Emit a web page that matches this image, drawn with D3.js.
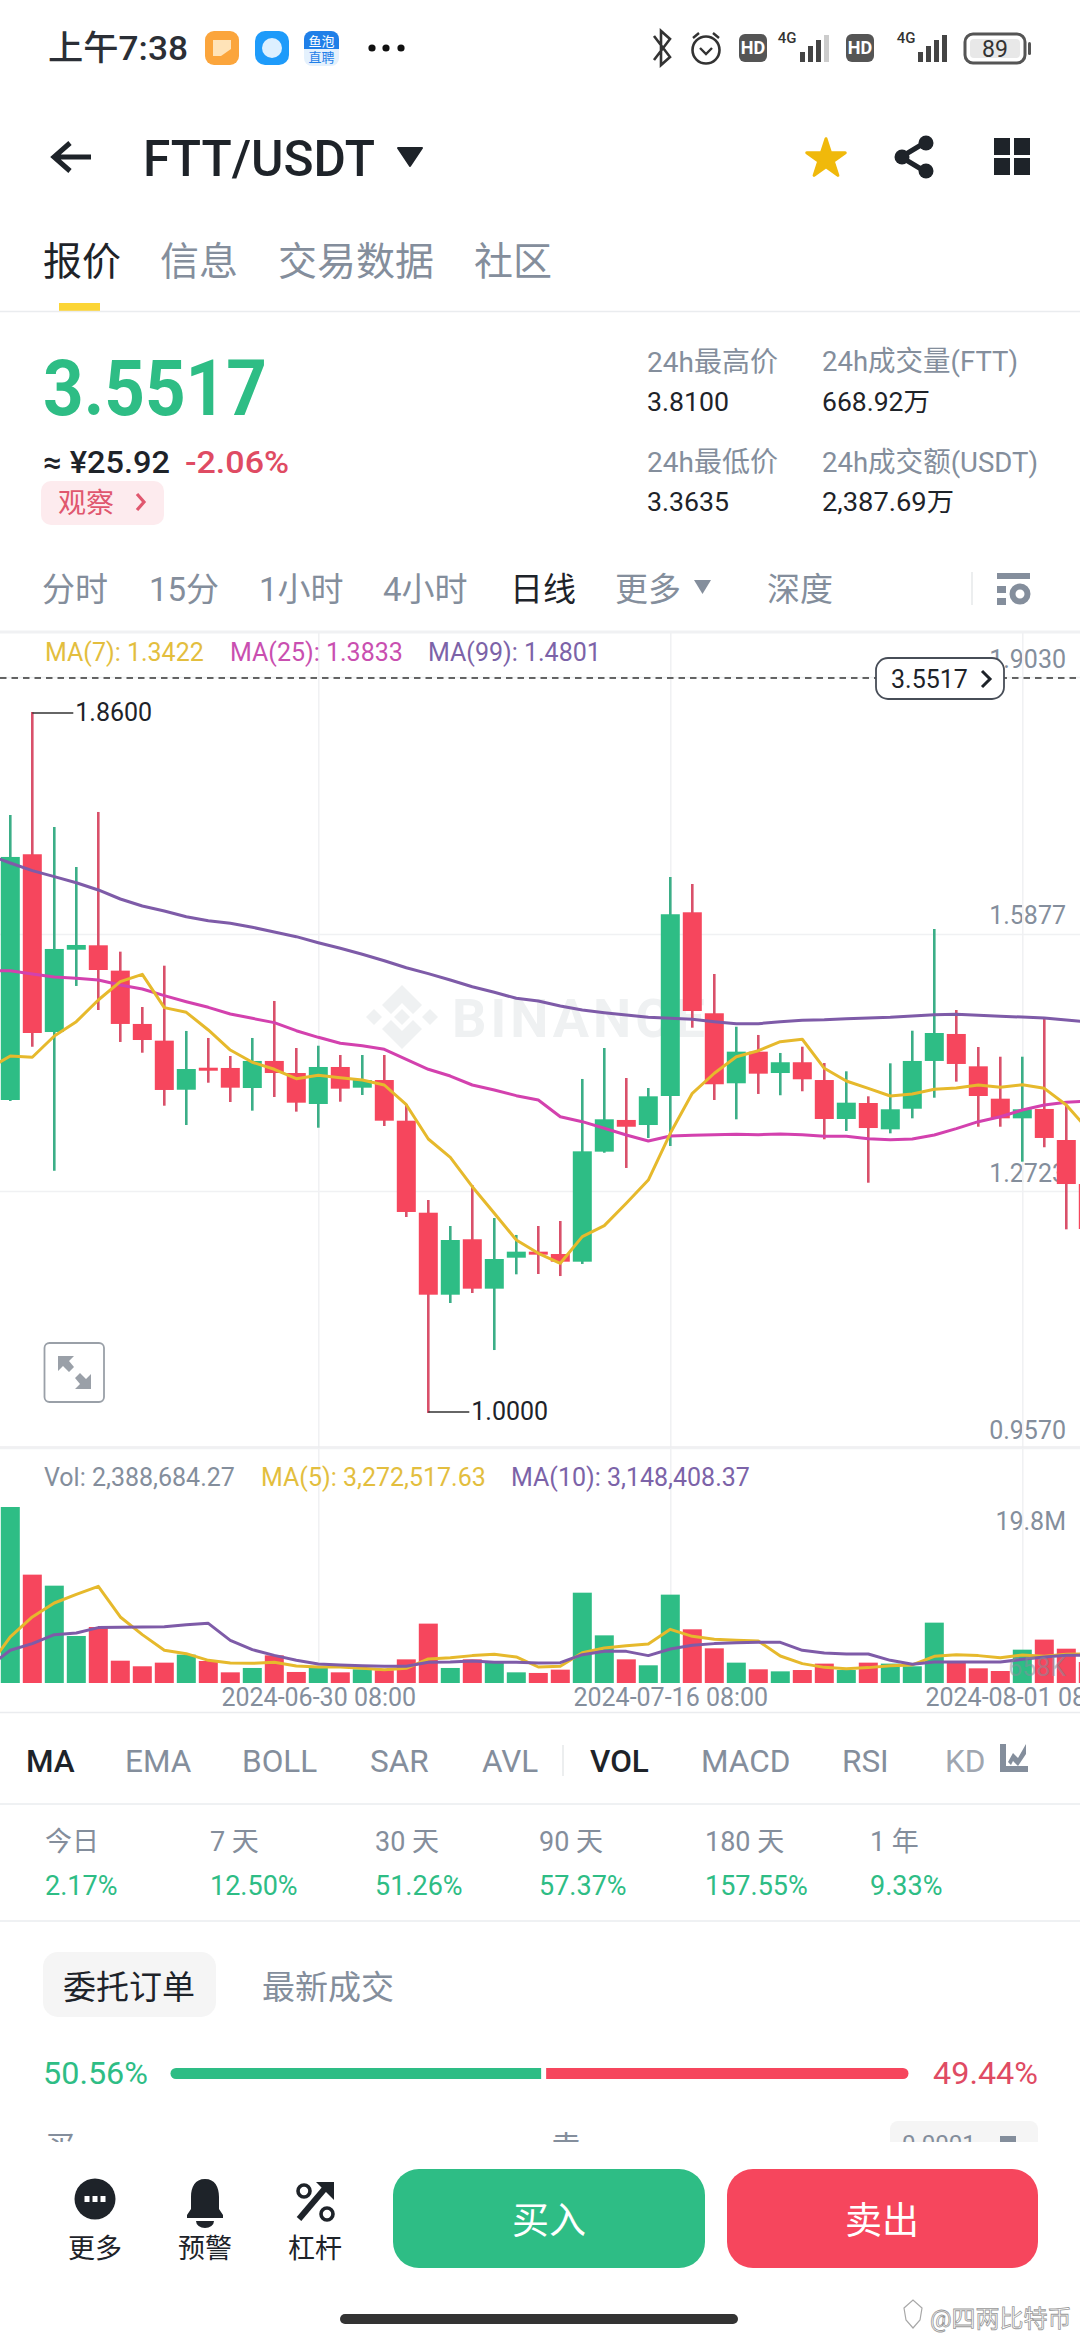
<!DOCTYPE html>
<html><head><meta charset="utf-8">
<script src="https://cdn.jsdelivr.net/npm/d3@7/dist/d3.min.js"></script>
<style>html,body{margin:0;padding:0;background:#fff;width:1080px;height:2340px;overflow:hidden}svg{display:block}</style>
</head><body><svg id="c" width="1080" height="2340" viewBox="0 0 1080 2340"></svg>
<script>
// ---------- DATA ----------
const opens=[1.3840,1.6855,1.4674,1.5684,1.5738,1.5427,1.4773,1.4568,1.3966,1.4236,1.4233,1.3987,1.4319,1.4171,1.3791,1.4245,1.3991,1.4085,1.3586,1.2457,1.1451,1.2131,1.1525,1.1905,1.1979,1.1950,1.1856,1.3206,1.3595,1.3533,1.3889,1.6143,1.4904,1.4045,1.4433,1.4171,1.4303,1.4085,1.3607,1.3803,1.3480,1.3733,1.4319,1.4650,1.4253,1.3856,1.3615,1.3730,1.3349,1.2809];
const closes=[1.6822,1.4662,1.5693,1.5742,1.5435,1.4773,1.4576,1.3963,1.4220,1.4208,1.3991,1.4319,1.4171,1.3807,1.4245,1.3979,1.4085,1.3586,1.2466,1.1451,1.2122,1.1525,1.1889,1.1979,1.1950,1.1856,1.3210,1.3603,1.3512,1.3885,1.6119,1.4932,1.4033,1.4433,1.4163,1.4303,1.4094,1.3607,1.3807,1.3496,1.3726,1.4319,1.4662,1.4282,1.3889,1.3615,1.3726,1.3374,1.2809,1.2257];
const highs=[1.7337,1.8600,1.7190,1.6699,1.7374,1.5660,1.4981,1.5488,1.4687,1.4601,1.4380,1.4601,1.5055,1.4478,1.4506,1.4392,1.4392,1.4392,1.3791,1.2613,1.2294,1.2797,1.2392,1.2184,1.2294,1.2355,1.4098,1.4478,1.4110,1.3987,1.6576,1.6490,1.5386,1.4739,1.4638,1.4417,1.4494,1.4294,1.4192,1.3885,1.4290,1.4690,1.5938,1.4944,1.4490,1.4371,1.4371,1.4842,1.3779,1.2809];
const lows=[1.3828,1.4494,1.2973,1.5239,1.4944,1.4552,1.4420,1.3770,1.3533,1.4052,1.3815,1.3709,1.3877,1.3697,1.3500,1.3819,1.3901,1.3521,1.2404,1.0000,1.1349,1.1472,1.0772,1.1701,1.1705,1.1680,1.1828,1.3193,1.3006,1.3374,1.3276,1.4727,1.3840,1.3603,1.3914,1.3898,1.3947,1.3358,1.3460,1.2825,1.3431,1.3615,1.3868,1.4065,1.3512,1.3512,1.3083,1.3260,1.2253,1.2257];
// moving averages: first entry belongs to the day just left of the visible window
const ma7=[1.4220,1.4380,1.4364,1.4625,1.4801,1.5067,1.5292,1.5382,1.4973,1.4916,1.4699,1.4453,1.4303,1.4217,1.4101,1.4143,1.4114,1.4085,1.4024,1.3782,1.3361,1.3137,1.2776,1.2450,1.2122,1.1959,1.1836,1.2163,1.2298,1.2573,1.2858,1.3431,1.3922,1.4168,1.4371,1.4445,1.4555,1.4585,1.4229,1.4073,1.3983,1.3889,1.3914,1.3971,1.3987,1.4024,1.3996,1.4028,1.3983,1.3779,1.3472];
const ma25=[1.5423,1.5427,1.5386,1.5349,1.5333,1.5312,1.5251,1.5202,1.5120,1.5046,1.4977,1.4895,1.4842,1.4789,1.4690,1.4609,1.4536,1.4506,1.4462,1.4339,1.4217,1.4134,1.4024,1.3963,1.3893,1.3840,1.3635,1.3574,1.3493,1.3411,1.3337,1.3398,1.3407,1.3414,1.3419,1.3414,1.3423,1.3414,1.3395,1.3395,1.3365,1.3353,1.3361,1.3411,1.3488,1.3574,1.3635,1.3717,1.3779,1.3812,1.3828];
const ma99=[1.6846,1.6748,1.6654,1.6580,1.6506,1.6417,1.6306,1.6220,1.6159,1.6089,1.6040,1.6008,1.5959,1.5901,1.5844,1.5770,1.5701,1.5628,1.5549,1.5463,1.5390,1.5312,1.5230,1.5161,1.5088,1.5054,1.4993,1.4944,1.4911,1.4883,1.4855,1.4842,1.4830,1.4801,1.4776,1.4776,1.4801,1.4818,1.4825,1.4838,1.4846,1.4855,1.4871,1.4887,1.4892,1.4879,1.4867,1.4858,1.4846,1.4822,1.4797];
const volumes=[19.8,12.19,10.95,5.29,6.30,2.51,1.88,2.29,3.19,2.48,1.20,1.69,3.11,1.24,1.80,1.20,1.54,1.43,2.66,6.68,1.69,2.66,2.36,1.20,1.13,1.50,10.16,5.36,2.66,1.99,9.94,6.04,3.90,2.29,1.54,1.31,1.46,2.18,1.46,2.29,2.18,1.88,6.79,2.29,1.65,1.35,3.75,4.88,3.86,2.36];
const volMa5=[1.80,5.18,7.43,9.00,9.98,10.88,7.43,5.44,3.68,3.30,2.55,2.25,2.21,2.33,1.91,1.80,1.80,1.65,1.50,1.65,2.70,2.85,3.08,3.23,2.93,1.80,1.88,3.41,3.94,4.20,4.39,6.04,5.25,4.91,4.80,4.73,3.04,2.18,1.76,1.61,1.73,1.95,2.03,3.00,3.19,3.08,2.85,3.15,3.00,3.23,3.26];
const volMa10=[1.80,3.68,4.43,5.44,5.63,6.23,6.26,6.30,6.34,6.56,6.71,4.80,3.75,3.11,2.55,2.14,2.03,1.95,1.88,1.88,2.33,2.36,2.48,2.33,2.33,2.25,2.29,3.19,3.56,3.56,3.08,3.83,4.24,4.43,4.54,4.58,4.58,3.68,3.38,3.26,3.26,2.55,2.10,2.36,2.36,2.36,2.36,2.66,2.93,3.11,3.15];
const priceTicks=[1.9030,1.5877,1.2723,0.9570];
const priceTickLabels=["1.9030","1.5877","1.2723","0.9570"];
const dateTickIdx=[14,30,46];
const dateTickLabels=["2024-06-30 08:00","2024-07-16 08:00","2024-08-01 08:00"];
const lastPrice=1.903;
const lastPriceLabel="3.5517";
const maxHighLabel="1.8600";
const minLowLabel="1.0000";
const indicatorNames=["MA","EMA","BOLL","SAR","AVL","VOL","MACD","RSI","KD"];
const periodNames=["分时","15分","1小时","4小时","日线","更多","深度"];
const statLabels=["今日","7 天","30 天","90 天","180 天","1 年"];
const statValues=["2.17%","12.50%","51.26%","57.37%","157.55%","9.33%"];
const buyShare=50.56, sellShare=49.44;

// ---------- STYLE ----------
const GREEN="#2EBD85",RED="#F6465D",DARK="#1E2329",GREY="#848E9C",GRID="#F0F1F3";
const WICKG="#3BAE87",WICKR="#D9506A";
const CY="#E6B92C",CP="#D341AE",CV="#7E5BA8";
const FONT='Roboto,"Noto Sans CJK SC",sans-serif';
const svg=d3.select("#c").style("font-family",FONT);
function t(x,y,s,size,fill,o={}){
  const n=svg.append("text").attr("x",x).attr("y",y).attr("dy","0.36em").attr("font-size",size).attr("fill",fill)
    .attr("text-anchor",o.a||"start").attr("font-weight",o.w||400).attr("opacity",o.op==null?1:o.op)
    .attr("letter-spacing",o.ls||null).text(s);
  if(o.len)n.attr("textLength",o.len).attr("lengthAdjust","spacingAndGlyphs");
  return n;
}
function hline(y,c,x0=0,x1=1080,w=1.5){svg.append("line").attr("x1",x0).attr("x2",x1).attr("y1",y).attr("y2",y).attr("stroke",c).attr("stroke-width",w);}
function p(d,fill,o={}){return svg.append("path").attr("d",d).attr("fill",fill).attr("stroke",o.s||"none").attr("stroke-width",o.w||0).attr("stroke-linecap",o.c||"butt").attr("stroke-linejoin",o.j||"miter");}
function r(x,y,w,h,rx,fill,o={}){return svg.append("rect").attr("x",x).attr("y",y).attr("width",w).attr("height",h).attr("rx",rx).attr("fill",fill).attr("stroke",o.s||"none").attr("stroke-width",o.w||0);}

// ---------- STATUS BAR ----------
t(48,48,"上午7:38",34,"#2b2f36",{w:500,len:140});
r(205,31,34,34,9,"#FBA53C");p("M213,40h18v9l-10,7h-8z","#FFE3B8");
r(255,31,34,34,10,"#1E9BFA");p("M262,48a10,10 0 0 1 20,0a10,10 0 0 1 -20,0z","#DDF0FF");
r(304,31,35,35,8,"#E4F1FD");
svg.append("path").attr("d","M304,39a8,8 0 0 1 8,-8h19a8,8 0 0 1 8,8v10h-35z").attr("fill","#1F7FE8");
t(321.5,41,"鱼泡",13,"#fff",{a:"middle"});t(321.5,57,"直聘",13,"#1F7FE8",{a:"middle"});
[372,386,401].forEach(x=>svg.append("circle").attr("cx",x).attr("cy",48).attr("r",3.6).attr("fill","#111"));
p("M654,36L670,57L661,65V31L670,39L654,60","none",{s:"#333",w:2.6});
svg.append("circle").attr("cx",706).attr("cy",50).attr("r",13.5).attr("fill","none").attr("stroke","#333").attr("stroke-width",2.6);
p("M700,48l6,6l6,-6M693,38l6,-5M719,38l-6,-5","none",{s:"#333",w:2.4});
[739,846].forEach(x=>{r(x,34,28,28,6,"#555");t(x+14,48,"HD",18,"#fff",{a:"middle",w:700});});
[[787,790],[906,908]].forEach(([tx,bx])=>{
  t(tx,38,"4G",15,"#333",{a:"middle",w:500});
  [10,16,22,27].forEach((h,i)=>r(bx+10+i*8,62-h,5,h,0,bx<800&&i==3?"#ccc":"#444"));
});
r(965,34,60,29,8,"none",{s:"#555",w:3});r(970,39,50,19,4,"#e8e8e8");
t(995,48.5,"89",23,"#333",{a:"middle"});r(1028,42,3,13,1.5,"#555");

// ---------- NAV ----------
p("M91,157H56M70,143L54,157L70,171","none",{s:DARK,w:5});
t(143,158,"FTT/USDT",50,DARK,{w:500,len:232});
p("M398,148H422L410,166Z",DARK,{s:DARK,w:2,j:"round"});
svg.append("path").attr("d",d3.symbol(d3.symbolStar,460)).attr("transform","translate(826,159)").attr("fill","#F0B90B").attr("stroke","#F0B90B").attr("stroke-width",3).attr("stroke-linejoin","round");
p("M926,142L901,157L926,172","none",{s:DARK,w:5});
[[926,143],[902,157],[926,171]].forEach(([x,y])=>svg.append("circle").attr("cx",x).attr("cy",y).attr("r",7.5).attr("fill",DARK));
[[994,138],[1014,138],[994,158],[1014,158]].forEach(([x,y])=>r(x,y,16,17,0,DARK));

// ---------- TABS ----------
t(43,261,"报价",39,DARK);t(160,261,"信息",39,GREY);t(278,261,"交易数据",39,GREY);t(474,261,"社区",39,GREY);
r(59,303,41,8,0,"#FCD535");hline(311.5,"#EAECEF");

// ---------- HEADLINE ----------
t(43,387,"3.5517",78,GREEN,{w:700,len:224});
t(43,462,"≈ ¥25.92",31,DARK,{w:500,len:127});t(185,462,"-2.06%",31,"#DF4B63",{w:500,len:104});
r(41,481,123,44,10,"#FDEBEE");t(58,503,"观察",28,"#E0576E");
p("M137,494l7,8l-7,8","none",{s:"#E0576E",w:3.2});
t(647,362,"24h最高价",28,GREY);t(647,402,"3.8100",26,DARK,{len:82});
t(822,361,"24h成交量(FTT)",28,GREY,{len:196});t(822,402,"668.92万",26,DARK,{len:108});
t(647,462,"24h最低价",28,GREY);t(647,502,"3.3635",26,DARK,{len:82});
t(822,462,"24h成交额(USDT)",28,GREY,{len:216});t(822,502,"2,387.69万",26,DARK,{len:132});

// ---------- PERIODS ----------
[42,149,259,383,510,615,767].forEach((x,i)=>t(x,589,periodNames[i],33,i==4?DARK:GREY));
p("M694,580H711L702.5,594Z",GREY);
svg.append("line").attr("x1",972).attr("x2",972).attr("y1",572).attr("y2",605).attr("stroke","#E6E8EA").attr("stroke-width",1.5);
r(997,573,33,6,0,GREY);r(997,586,9,7,0,GREY);r(997,598,9,7,0,GREY);
svg.append("circle").attr("cx",1020).attr("cy",594).attr("r",7.5).attr("fill","none").attr("stroke",GREY).attr("stroke-width",6);
hline(632,GRID,0,1080,3);

// ---------- SCALES ----------
const x=d3.scaleLinear().domain([0,1]).range([10.3,32.3]);
const y=d3.scaleLinear().domain([0.957,1.903]).range([1448,677]);
const v=d3.scaleLinear().domain([0,19.8]).range([1683,1507]);
const BODY=19,WICK=2.6;

// ---------- WATERMARK ----------
const wm="#EFF1F2";
const diamond=(cx,cy,s)=>`M${cx},${cy-s}L${cx+s},${cy}L${cx},${cy+s}L${cx-s},${cy}Z`;
p(diamond(402,1017,8),wm);p(diamond(374,1017,8),wm);p(diamond(430,1017,8),wm);
p("M402,985L422,1005L413,1014L402,1003L391,1014L382,1005Z",wm);
p("M402,1049L422,1029L413,1020L402,1031L391,1020L382,1029Z",wm);
t(452,1018,"BINANCE",54,wm,{w:700,ls:"4px"});

// ---------- AXES ----------
const gy=svg.append("g").call(d3.axisRight(y).tickValues(priceTicks).tickSize(1080).tickFormat((d,i)=>priceTickLabels[i]));
gy.select(".domain").remove();
gy.selectAll(".tick line").attr("stroke",GRID).attr("stroke-width",1.5);
gy.selectAll(".tick text").attr("x",1066).attr("dy","-0.36em").attr("y",-1).attr("text-anchor","end").attr("fill",GREY).attr("font-size",25).attr("font-family",FONT);
const gx=svg.append("g").attr("transform","translate(0,1683)").call(d3.axisBottom(x).tickValues(dateTickIdx).tickSize(-1051).tickFormat((d,i)=>dateTickLabels[i]));
gx.select(".domain").remove();
gx.selectAll(".tick line").attr("stroke",GRID).attr("stroke-width",1.5);
gx.selectAll(".tick text").attr("y",14).attr("dy","0.36em").attr("fill",GREY).attr("font-size",25).attr("font-family",FONT);
hline(1447,"#ECEDEF");hline(1712.5,"#EAECEF");

// ---------- CANDLES ----------
const candles=opens.map((o,i)=>({i,o,c:closes[i],h:highs[i],l:lows[i],up:closes[i]>=o}));
const gc=svg.append("g");
gc.selectAll("line").data(candles).join("line").attr("x1",d=>x(d.i)).attr("x2",d=>x(d.i)).attr("y1",d=>y(d.h)).attr("y2",d=>y(d.l)).attr("stroke",d=>d.up?WICKG:WICKR).attr("stroke-width",WICK);
gc.selectAll("rect").data(candles).join("rect").attr("x",d=>x(d.i)-BODY/2).attr("width",BODY).attr("y",d=>y(Math.max(d.o,d.c))).attr("height",d=>Math.max(3,Math.abs(y(d.o)-y(d.c)))).attr("fill",d=>d.up?GREEN:RED);

// ---------- MA LINES ----------
const maLine=(sc)=>d3.line().x((d,i)=>x(i-1)).y(d=>sc(d));
[[ma99,CV],[ma25,CP],[ma7,CY]].forEach(([a,c])=>svg.append("path").attr("d",maLine(y)(a)).attr("fill","none").attr("stroke",c).attr("stroke-width",3).attr("stroke-linejoin","round"));

// ---------- VOLUME ----------
svg.append("g").selectAll("rect").data(volumes).join("rect").attr("x",(d,i)=>x(i)-BODY/2).attr("width",BODY).attr("y",d=>v(d)).attr("height",d=>v(0)-v(d)).attr("fill",(d,i)=>closes[i]>=opens[i]?GREEN:RED);
[[volMa5,CY],[volMa10,CV]].forEach(([a,c])=>svg.append("path").attr("d",maLine(v)(a)).attr("fill","none").attr("stroke",c).attr("stroke-width",3).attr("stroke-linejoin","round"));
t(1066,1521,"19.8M",25,GREY,{a:"end"});t(1066,1667,"658K",25,GREY,{a:"end",op:.55});

// ---------- LEGENDS ----------
t(45,652,"MA(7): 1.3422",25,"#E3BE3E");t(230,652,"MA(25): 1.3833",25,"#C94FB0");t(428,652,"MA(99): 1.4801",25,"#7C63A8");
t(44,1477,"Vol: 2,388,684.27",25,GREY);t(261,1477,"MA(5): 3,272,517.63",25,"#E3BE3E");t(511,1477,"MA(10): 3,148,408.37",25,"#7C63A8");

// ---------- LAST PRICE ----------
svg.append("line").attr("x1",0).attr("x2",1080).attr("y1",y(lastPrice)+1).attr("y2",y(lastPrice)+1).attr("stroke","#333").attr("stroke-width",1.6).attr("stroke-dasharray","6.5 5");
r(876,658,128,41,12,"#fff",{s:"#474D57",w:1.8});
t(891,679,lastPriceLabel,25,DARK);p("M982,671l8,8l-8,8","none",{s:DARK,w:3});

// ---------- HI / LO ANNOTATIONS ----------
const hiI=highs.indexOf(d3.max(highs)),loI=lows.indexOf(d3.min(lows));
svg.append("line").attr("x1",x(hiI)).attr("x2",x(hiI)+41).attr("y1",y(highs[hiI])+1).attr("y2",y(highs[hiI])+1).attr("stroke","#333").attr("stroke-width",1.6);
t(x(hiI)+43,712,maxHighLabel,25,DARK);
svg.append("line").attr("x1",x(loI)).attr("x2",x(loI)+41).attr("y1",y(lows[loI])-1).attr("y2",y(lows[loI])-1).attr("stroke","#333").attr("stroke-width",1.6);
t(x(loI)+43,1411,minLowLabel,25,DARK);

// expand button
r(44.5,1343,59.5,59,5,"#fff",{s:"#9AA0A8",w:1.8});
p("M58,1356h16l-5,5l5,6l-5,5l-6,-6l-5,5z M91,1389h-16l5,-5l-5,-6l5,-5l6,6l5,-5z","#9AA0A8");

// ---------- INDICATORS ----------
[26,125,242,370,482,590,701,842,945].forEach((xx,i)=>{
  const on=i==0||i==5;
  t(xx,1761,indicatorNames[i],31.5,on?DARK:(i==8?"#A0A6B0":GREY),{w:on?500:400});
});
svg.append("line").attr("x1",563).attr("x2",563).attr("y1",1745).attr("y2",1776).attr("stroke","#E6E8EA").attr("stroke-width",1.5);
r(992,1742,43,34,0,"#fff");
p("M1000,1744v28h28v-6h-22v-22z M1008,1762l5,-9l5,5l8,-14v10l-8,12l-5,-5l-2,4z",GREY);
hline(1804,"#EAECEF");

// ---------- STATS ----------
[45,210,375,539,705,870].forEach((xx,i)=>{t(xx,1841,statLabels[i],27,GREY);t(xx,1885,statValues[i],27,GREEN);});
hline(1921,"#EAECEF");

// ---------- ORDER BOOK ----------
r(43,1952,173,65,15,"#F5F5F5");t(63,1987,"委托订单",33,DARK);t(262,1987,"最新成交",33,GREY);
t(43,2073,buyShare.toFixed(2)+"%",31,GREEN,{len:105});t(1038,2073,sellShare.toFixed(2)+"%",31,"#DF4B63",{a:"end",len:105});
const bar=d3.scaleLinear().domain([0,buyShare+sellShare]).range([170,909]);
p(`M${bar(buyShare)-2.5},2068H176a5.5,5.5 0 0 0 0,11H${bar(buyShare)-2.5}Z`,GREEN);
p(`M${bar(buyShare)+2.5},2068H903a5.5,5.5 0 0 1 0,11H${bar(buyShare)+2.5}Z`,RED);
t(45,2146,"买",30,GREY);t(551,2146,"卖",30,GREY);
r(890,2121,148,40,8,"#F5F5F5");t(902,2143,"0.0001",24,GREY);p("M1000,2136h16v10h-16z",GREY);

// ---------- FOOTER ----------
r(0,2142,1080,198,0,"#fff");
svg.append("ellipse").attr("cx",95).attr("cy",2199).attr("rx",20.5).attr("ry",20.5).attr("fill",DARK);
[87,95,103].forEach(xx=>r(xx-2.5,2196,5,6,0,"#fff"));
p("M205,2179c-10,0 -14,8 -14,18v12l-4,6v3h36v-3l-4,-6v-12c0,-10 -4,-18 -14,-18z",DARK);
p("M196,2221h18a9,7 0 0 1 -18,0z",DARK);
p("M299,2219L327,2186","none",{s:DARK,w:6});p("M316,2182h18v18z",DARK);
svg.append("circle").attr("cx",304).attr("cy",2191).attr("r",6).attr("fill","none").attr("stroke",DARK).attr("stroke-width",3.6);
svg.append("circle").attr("cx",327).attr("cy",2214).attr("r",6).attr("fill","none").attr("stroke",DARK).attr("stroke-width",3.6);
t(95,2248,"更多",27,DARK,{a:"middle"});t(205,2248,"预警",27,DARK,{a:"middle"});t(315,2248,"杠杆",27,DARK,{a:"middle"});
r(393,2169,312,99,26,GREEN);r(727,2169,311,99,26,RED);
t(549,2221,"买入",37,"#fff",{a:"middle"});t(882,2221,"卖出",37,"#fff",{a:"middle"});
r(340,2314,398,10,5,"#333");
p("M904,2308l9,-8l9,8l-2,12l-7,8l-7,-8z","#fff",{s:"#a8a8a8",w:1.2});
t(930,2318,"@四两比特币",24,"#fff").attr("stroke","#999").attr("stroke-width",.8);
</script></body></html>
